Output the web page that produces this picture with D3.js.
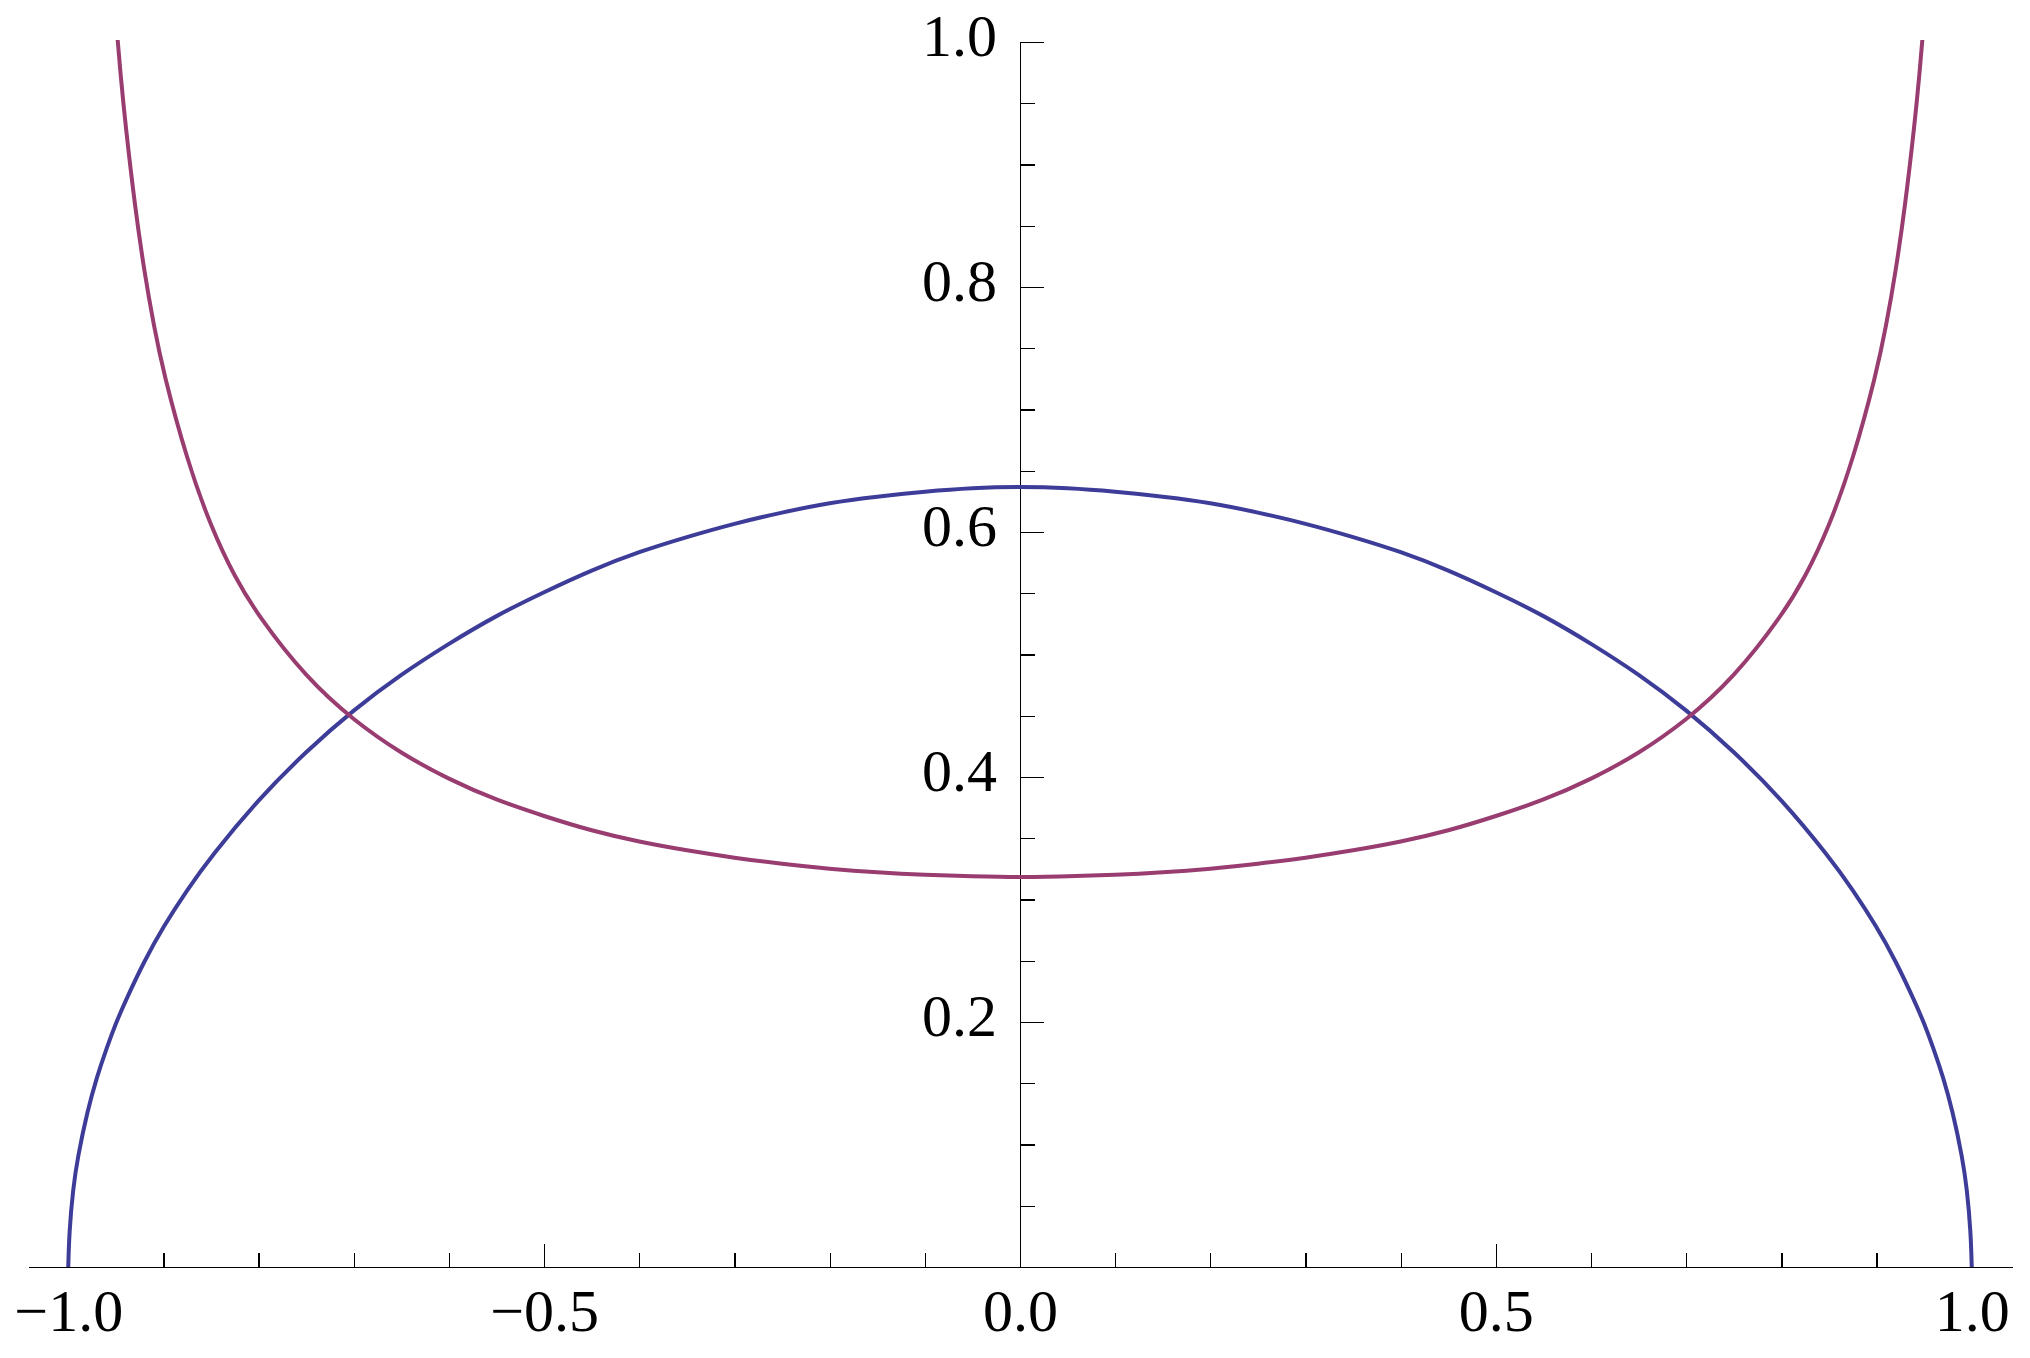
<!DOCTYPE html>
<html>
<head>
<meta charset="utf-8">
<script src="https://cdn.jsdelivr.net/npm/d3@7"></script>
<style>
  body { margin: 0; background: #fff; }
  svg { display: block; }
</style>
</head>
<body>
<svg id="chart" width="2030" height="1358"></svg>
<script>
// values
const blueX = [-1, -0.999, -0.995, -0.99, -0.98, -0.97, -0.96, -0.95, -0.94, -0.92, -0.9, -0.875, -0.85, -0.8, -0.75, -0.7, -0.65, -0.6, -0.55, -0.5,
               -0.45, -0.4, -0.35, -0.3, -0.25, -0.2, -0.15, -0.1, -0.05,
               0, 0.05, 0.1, 0.15, 0.2, 0.25, 0.3, 0.35, 0.4, 0.45,
               0.5, 0.55, 0.6, 0.65, 0.7, 0.75, 0.8, 0.85, 0.875, 0.9, 0.92, 0.94, 0.95, 0.96, 0.97, 0.98, 0.99, 0.995, 0.999, 1];
const blueY = [0, 0.028, 0.064, 0.090, 0.127, 0.155, 0.178, 0.199, 0.217, 0.250, 0.278, 0.308, 0.335, 0.382, 0.421, 0.455, 0.484, 0.509, 0.532, 0.551,
               0.569, 0.584, 0.596, 0.607, 0.616, 0.624, 0.629, 0.633, 0.636,
               0.637, 0.636, 0.633, 0.629, 0.624, 0.616, 0.607, 0.596, 0.584, 0.569,
               0.551, 0.532, 0.509, 0.484, 0.455, 0.421, 0.382, 0.335, 0.308, 0.278, 0.250, 0.217, 0.199, 0.178, 0.155, 0.127, 0.090, 0.064, 0.028, 0];

const purpleX = [-0.95, -0.945, -0.94, -0.93, -0.92, -0.91, -0.9, -0.875, -0.85, -0.825, -0.8, -0.75, -0.7, -0.65, -0.6, -0.55, -0.5,
                 -0.45, -0.4, -0.35, -0.3, -0.25, -0.2, -0.15, -0.1, -0.05,
                 0, 0.05, 0.1, 0.15, 0.2, 0.25, 0.3, 0.35, 0.4, 0.45,
                 0.5, 0.55, 0.6, 0.65, 0.7, 0.75, 0.8, 0.825, 0.85, 0.875, 0.9, 0.91, 0.92, 0.93, 0.94, 0.945, 0.95];
const purpleY = [1.019, 0.973, 0.933, 0.866, 0.812, 0.768, 0.730, 0.658, 0.604, 0.563, 0.531, 0.481, 0.446, 0.419, 0.398, 0.381, 0.368,
                 0.356, 0.347, 0.340, 0.334, 0.329, 0.325, 0.322, 0.320, 0.319,
                 0.318, 0.319, 0.320, 0.322, 0.325, 0.329, 0.334, 0.340, 0.347, 0.356,
                 0.368, 0.381, 0.398, 0.419, 0.446, 0.481, 0.531, 0.563, 0.604, 0.658, 0.730, 0.768, 0.812, 0.866, 0.933, 0.973, 1.019];

const xMajor = [-1, -0.5, 0, 0.5, 1];
const xMinor = [-0.9, -0.8, -0.7, -0.6, -0.4, -0.3, -0.2, -0.1, 0.1, 0.2, 0.3, 0.4, 0.6, 0.7, 0.8, 0.9];
const yMajor = [0.2, 0.4, 0.6, 0.8, 1.0];
const yMinor = [0.05, 0.1, 0.15, 0.25, 0.3, 0.35, 0.45, 0.5, 0.55, 0.65, 0.7, 0.75, 0.85, 0.9, 0.95];

const svg = d3.select('#chart');
const fontFamily = '"Liberation Serif", "Times New Roman", serif';

let xScale = d3.scaleLinear()
               .domain([-1.0423, 1.0423])
               .range([28, 2012]);
let yScale = d3.scaleLinear()
               .domain([0, 1])
               .range([1267, 42]);

// clip at the top of the plot range
svg.append('clipPath')
   .attr('id', 'plotClip')
   .append('rect')
   .attr('x', 0)
   .attr('y', yScale(1) - 2)
   .attr('width', 2030)
   .attr('height', 1358);

function fmt(d){
  return d3.format('.1f')(d).replace('-', '\u2212');
}

// x axis: ticks point up
let xAxis = svg.append('g')
   .attr('transform', `translate(0,${yScale(0)})`)
   .call(d3.axisBottom(xScale)
           .tickValues(xMajor)
           .tickSize(-23)
           .tickSizeOuter(0)
           .tickPadding(21)
           .tickFormat(fmt));
svg.append('g')
   .attr('transform', `translate(0,${yScale(0)})`)
   .call(d3.axisBottom(xScale)
           .tickValues(xMinor)
           .tickSize(-14)
           .tickSizeOuter(0)
           .tickFormat(''))
   .select('.domain').remove();

// y axis: ticks point right, labels on the left
let yAxis = svg.append('g')
   .attr('transform', `translate(${xScale(0)},0)`)
   .call(d3.axisLeft(yScale)
           .tickValues(yMajor)
           .tickSize(-24)
           .tickSizeOuter(0)
           .tickPadding(23)
           .tickFormat(fmt));
svg.append('g')
   .attr('transform', `translate(${xScale(0)},0)`)
   .call(d3.axisLeft(yScale)
           .tickValues(yMinor)
           .tickSize(-15)
           .tickSizeOuter(0)
           .tickFormat(''))
   .select('.domain').remove();

svg.selectAll('.tick line, .domain')
   .attr('stroke', '#000')
   .attr('stroke-width', 1.3)
   .attr('shape-rendering', 'crispEdges');
svg.selectAll('.tick text')
   .attr('font-family', fontFamily)
   .attr('font-size', '60px')
   .attr('fill', '#000');
yAxis.selectAll('.tick text').attr('dy', '0.22em');

let lineFunction = d3.line()
                     .x(d => xScale(d[0]))
                     .y(d => yScale(d[1]))
                     .curve(d3.curveBasis);

svg.append('path')
   .attr('d', lineFunction(blueX.map((x, i) => [x, blueY[i]])))
   .attr('clip-path', 'url(#plotClip)')
   .attr('fill', 'none')
   .attr('stroke', '#3d3d99')
   .attr('stroke-width', 4);

svg.append('path')
   .attr('d', lineFunction(purpleX.map((x, i) => [x, purpleY[i]])))
   .attr('clip-path', 'url(#plotClip)')
   .attr('fill', 'none')
   .attr('stroke', '#993d71')
   .attr('stroke-width', 4);
</script>
</body>
</html>
